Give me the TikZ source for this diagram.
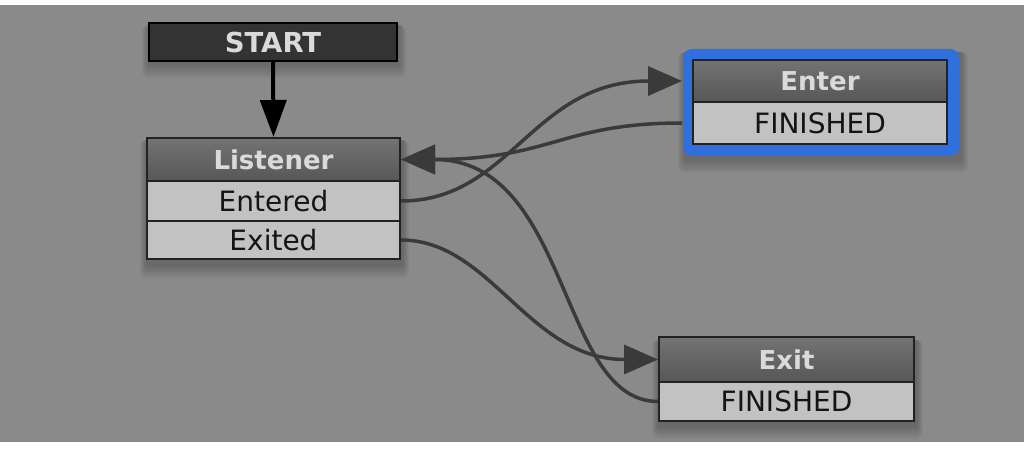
\documentclass[tikz,border=0pt]{standalone}
\usepackage{fontspec}
\setmainfont{DejaVu Sans}
\usetikzlibrary{arrows.meta}
\definecolor{bg}{HTML}{8A8A8A}
\definecolor{boxline}{HTML}{222222}
\definecolor{headtop}{HTML}{737373}
\definecolor{headbot}{HTML}{575757}
\definecolor{headtext}{HTML}{DADADA}
\definecolor{rowfill}{HTML}{C2C2C2}
\definecolor{startfill}{HTML}{333333}
\definecolor{connc}{HTML}{3A3A3A}
\definecolor{selblue}{HTML}{2F6FDE}
\tikzset{
  head/.style={draw=boxline, line width=2pt, top color=headtop, bottom color=headbot,
    text=headtext, font=\bfseries\fontsize{26}{30}\selectfont, inner sep=0pt},
  rowbox/.style={draw=boxline, line width=2pt, fill=rowfill, text=black!92,
    font=\fontsize{28}{32}\selectfont, inner sep=0pt},
  startbox/.style={draw=black, line width=2pt, fill=startfill, text=headtext,
    font=\bfseries\fontsize{27.5}{32}\selectfont, inner sep=0pt},
  conn/.style={draw=connc, line width=3.5pt, -{Triangle[length=34pt,width=29pt]}},
  startarrow/.style={draw=black, line width=4pt, -{Triangle[length=37pt,width=26pt]}},
}
\begin{document}
\begin{tikzpicture}[x=1pt,y=-1pt]
% background
\useasboundingbox (0,0) rectangle (1024,454);
\fill[white] (0,0) rectangle (1024,454);
\fill[bg] (0,5) rectangle (1024,442);
% soft shadows
\foreach \i in {1,...,7}{
  \fill[black, opacity=0.035, rounded corners=\i pt]
    (147-\i,140-\i+\i) rectangle (402+\i,264+\i+\i);
  \fill[black, opacity=0.035, rounded corners=\i pt]
    (659-\i,340-\i+\i) rectangle (916+\i,425+\i+\i);
  \fill[black, opacity=0.03, rounded corners=\i pt]
    (149-\i,25-\i+\i) rectangle (399+\i,64+\i+\i);
  \fill[black, opacity=0.03, rounded corners=\i pt]
    (685-\i,52-\i+\i) rectangle (961+\i,159+\i+\i);
}
% selection outline
\fill[selblue, rounded corners=9pt] (683,49) rectangle (959,156);
% nodes
\node[startbox, minimum width=248pt, minimum height=38pt] (start) at (273,42) {START};
\node[head, minimum width=253pt, minimum height=43pt] (lhead) at (273.5,159.5) {Listener};
\node[rowbox, minimum width=253pt, minimum height=40pt] (lent) at (273.5,201) {Entered};
\node[rowbox, minimum width=253pt, minimum height=38pt] (lexi) at (273.5,240) {Exited};
\node[head, minimum width=254pt, minimum height=42pt] (ehead) at (820,81) {Enter};
\node[rowbox, minimum width=254pt, minimum height=42pt] (efin) at (820,123) {FINISHED};
\node[head, minimum width=255pt, minimum height=45pt] (xhead) at (786.5,359.5) {Exit};
\node[rowbox, minimum width=255pt, minimum height=39pt] (xfin) at (786.5,401.5) {FINISHED};
% connectors
\draw[startarrow] (start.south) -- (lhead.north);
\draw[conn] (lent.east) .. controls +(110,0) and +(-150,0) .. ([xshift=-10pt]ehead.west);
\draw[conn] ([xshift=-10pt]efin.west) .. controls +(-120,0) and +(150,0) .. (lhead.east);
\draw[conn] (lexi.east) .. controls +(90,0) and +(-130,0) .. (xhead.west);
\draw[conn] (xfin.west) .. controls +(-100,0) and +(170,0) .. (lhead.east);
\end{tikzpicture}
\end{document}
